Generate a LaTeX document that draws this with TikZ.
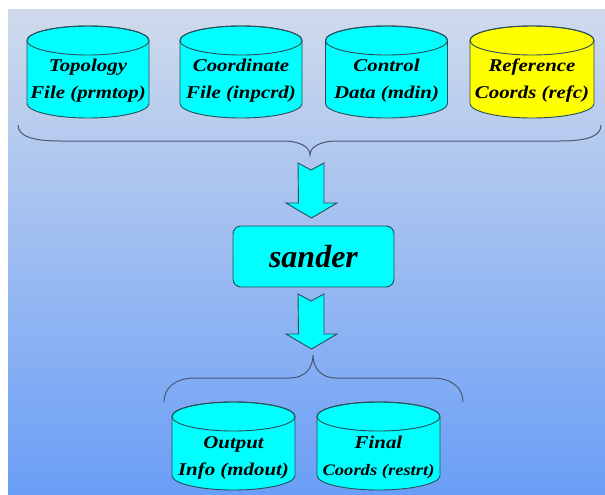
\documentclass[tikz,border=0pt]{standalone}
\usepackage{fontspec}
\usepackage{graphicx}
\newfontfamily\lbl{Liberation Serif}
\definecolor{cyanfill}{HTML}{00FFFF}
\definecolor{yelfill}{HTML}{FFFF00}
\definecolor{edgec}{HTML}{2B4B58}
\definecolor{bgtop}{HTML}{CFDAEC}
\definecolor{bgbot}{HTML}{6A9EF6}
\definecolor{bracec}{HTML}{4A5670}
\newcommand\wide[1]{\scalebox{1.16}[1]{#1}}
\tikzset{
  cylline/.style={draw=edgec, line width=0.9pt},
  lbltxt/.style={font=\lbl\bfseries\itshape\fontsize{18}{20}\selectfont, inner sep=0pt, anchor=base, text=black},
  smalltxt/.style={font=\lbl\bfseries\itshape\fontsize{16}{18}\selectfont},
  bracestyle/.style={draw=bracec, line width=1pt},
  blockarrow/.style={draw=edgec, line width=0.9pt, fill=cyanfill, line join=miter},
  procbox/.style={draw=edgec, line width=0.9pt, fill=cyanfill, rounded corners=8pt,
    minimum width=161pt, minimum height=61pt, inner sep=0pt,
    font=\lbl\bfseries\itshape\fontsize{32}{34}\selectfont}
}
% #1 name, #2 cx, #3 y of top ellipse centre, #4 y of bottom ellipse centre,
% #5 fill, #6 line 1, #7 line 2, #8 extra style for line 2, #9 half width
\newcommand\dbcyl[9]{%
  \draw[cylline, fill=#5] ({#2-#9},#3) -- ({#2-#9},#4)
     arc[start angle=180,end angle=0,x radius=#9,y radius=14.5]
     -- ({#2+#9},#3)
     arc[start angle=360,end angle=180,x radius=#9,y radius=14.5] -- cycle;
  \draw[cylline] (#2,#3) ellipse[x radius=#9,y radius=14.5];
  \node[lbltxt] (#1-a) at (#2,{#3+31.5}) {\wide{#6}};
  \node[lbltxt,#8] (#1-b) at (#2,{#3+58.5}) {\wide{#7}};
}
\newcommand\fatarrow[2]{% #1 top coordinate name
  \draw[blockarrow] (#1) ++(-13,0) -- ++(13,7) -- ++(13,-7) -- ++(0,40)
     -- ++(13,0) -- ++(-25.5,15) -- ++(-25.5,-15) -- ++(12.5,0) -- cycle;
  \coordinate (#2) at ([yshift=-55pt]#1);
}
\begin{document}
\begin{tikzpicture}[x=1pt,y=-1pt]
  \useasboundingbox (0,0) rectangle (605,495);
  \shade[top color=bgtop, bottom color=bgbot] (8,10) rectangle (605,495);

  % input files
  \dbcyl{top}{88}{40.5}{103.5}{cyanfill}{Topology}{File (prmtop)}{}{61}
  \dbcyl{crd}{241}{40.5}{103.5}{cyanfill}{Coordinate}{File (inpcrd)}{}{61}
  \dbcyl{ctl}{386.5}{40.5}{103.5}{cyanfill}{Control}{Data (mdin)}{}{61}
  \dbcyl{ref}{532}{40.5}{103.5}{yelfill}{Reference}{Coords (refc)}{}{62}

  % top brace
  \coordinate (b1l) at (18,125);
  \coordinate (b1tip) at (310,155);
  \coordinate (b1r) at (601,125);
  \draw[bracestyle] (b1l) .. controls (18,136) and (32,141) .. (60,141)
     -- (283,141) .. controls (300,141) and (310,147) .. (b1tip)
     .. controls (310,147) and (320,141) .. (337,141)
     -- (560,141) .. controls (588,141) and (601,136) .. (b1r);

  % arrow to sander
  \coordinate (a1) at (311,163);
  \fatarrow{a1}{a1tip}

  \node[procbox] (sander) at (313.5,256.5) {sander};

  % arrow from sander
  \coordinate (a2) at (311,294);
  \fatarrow{a2}{a2tip}

  % bottom brace
  \coordinate (b2l) at (164,402);
  \coordinate (b2tip) at (313,355);
  \coordinate (b2r) at (463,402);
  \draw[bracestyle] (b2l) .. controls (164,388) and (175,378) .. (195,378)
     -- (290,378) .. controls (305,378) and (313,368) .. (b2tip)
     .. controls (313,368) and (321,378) .. (336,378)
     -- (432,378) .. controls (452,378) and (463,388) .. (b2r);

  % output files
  \dbcyl{out}{233.5}{416.5}{475.5}{cyanfill}{Output}{Info (mdout)}{}{61.5}
  \dbcyl{fin}{378.5}{416.5}{475.5}{cyanfill}{Final}{Coords (restrt)}{smalltxt}{61.5}
\end{tikzpicture}
\end{document}
